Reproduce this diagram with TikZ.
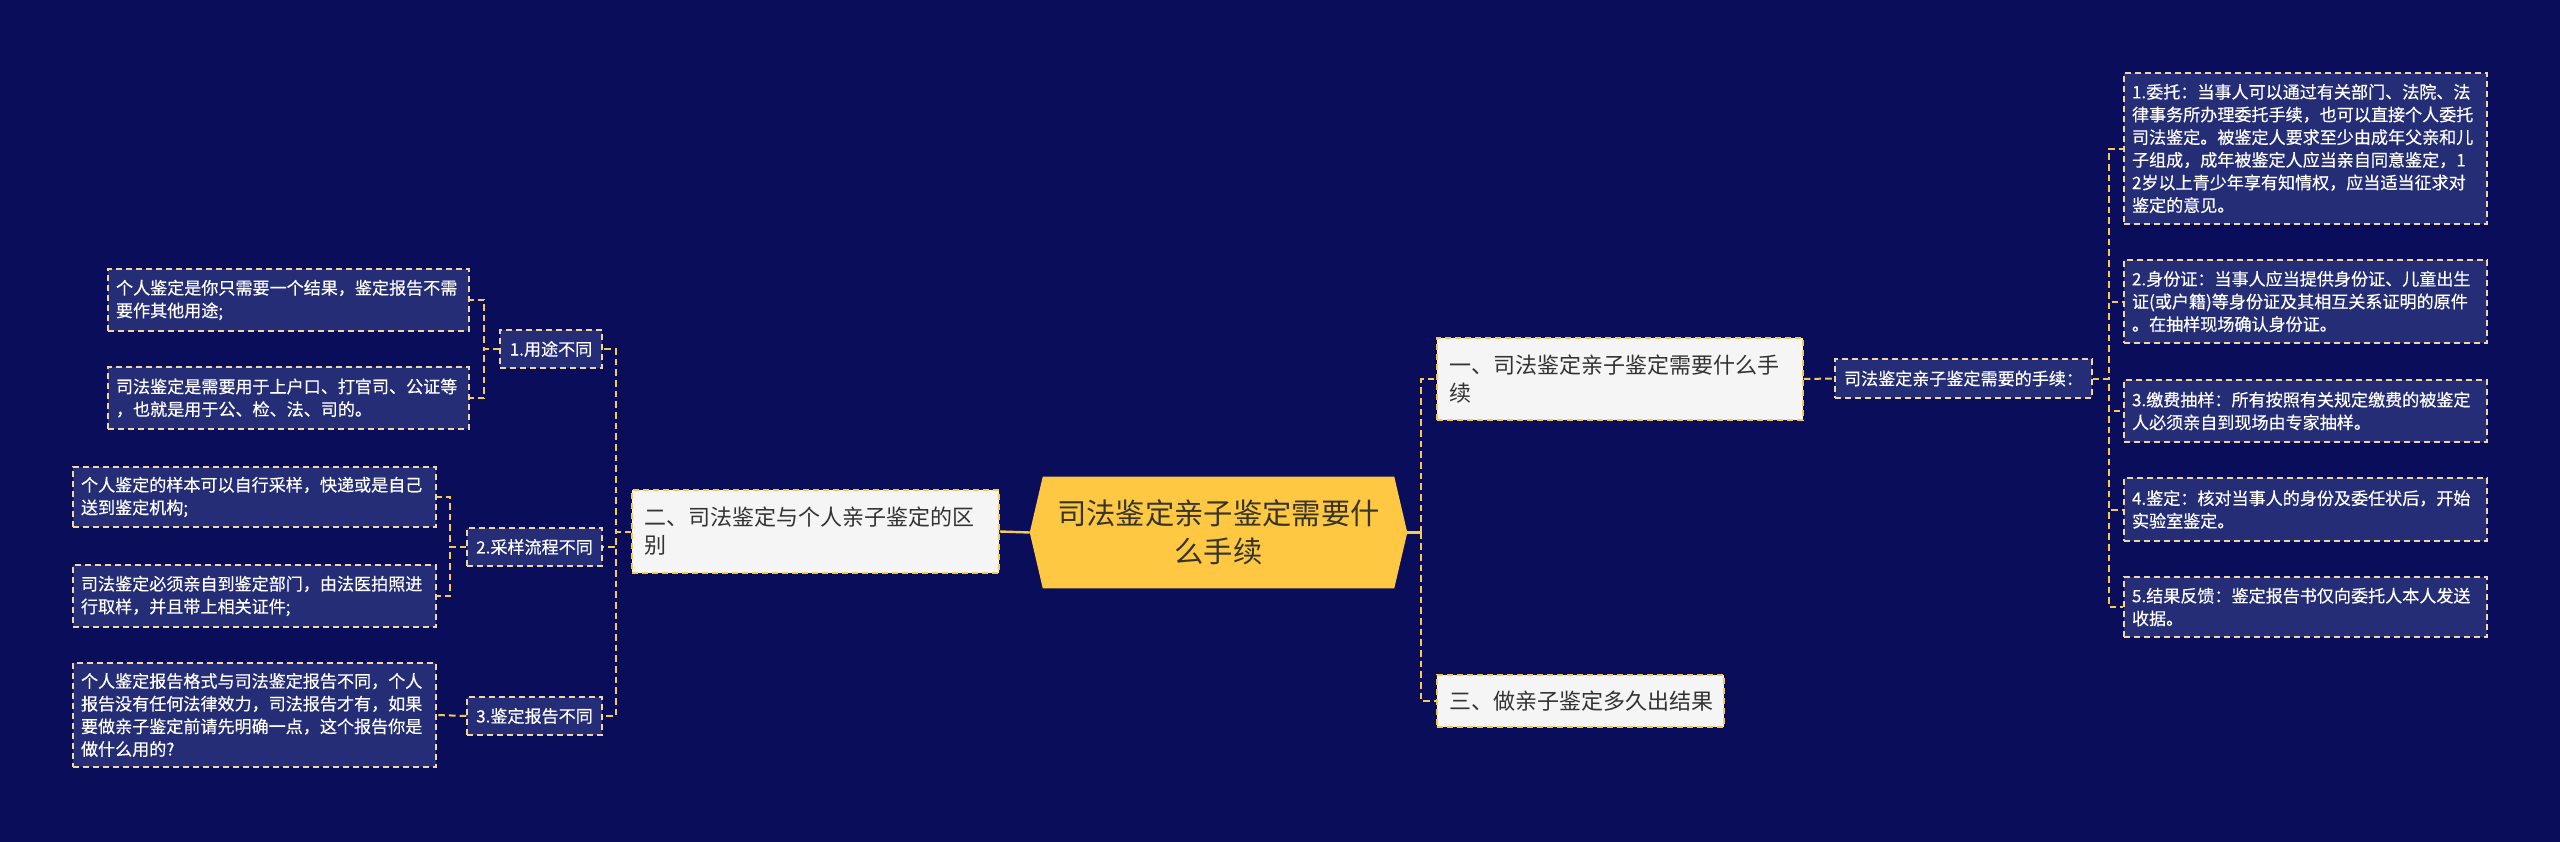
\documentclass[tikz,border=0pt]{standalone}
\usepackage{fontspec}
\newfontfamily\cjk{Noto Sans CJK SC}
\newfontfamily\cjkl[FakeBold=0.4]{Noto Sans CJK SC}
\usetikzlibrary{calc}
\definecolor{bgc}{RGB}{10,14,90}
\definecolor{leaffill}{RGB}{37,45,118}
\definecolor{leafborder}{RGB}{240,214,160}
\definecolor{lvfill}{RGB}{245,245,245}
\definecolor{lvborder}{RGB}{247,201,74}
\definecolor{cfill}{RGB}{255,200,67}
\definecolor{ctext}{RGB}{55,52,40}
\definecolor{conncol}{RGB}{245,203,79}
\definecolor{dtext}{RGB}{51,51,51}
\newcommand\mkbox[8]{%
  \pgfmathsetmacro\bw{#4*0.75}\pgfmathsetmacro\bh{#5*0.75}\pgfmathsetmacro\tw{(#4-2*#7)*0.75}%
  \node[#6, minimum width=\bw pt, minimum height=\bh pt, text width=\tw pt, inner xsep=#7*0.75pt] (#1) at (#2,#3) {#8};}
\tikzset{
  leafbox/.style={rectangle, fill=leaffill, draw=leafborder, line width=1.1pt, dash pattern=on 4.5pt off 3pt, text=white, align=left, inner ysep=0pt, font=\cjkl\fontsize{12.8pt}{17pt}\selectfont},
  midbox/.style={leafbox, align=center},
  lvbox/.style={rectangle, fill=lvfill, draw=lvborder, line width=1.1pt, dash pattern=on 4.5pt off 3pt, text=dtext, align=left, inner ysep=0pt, font=\cjk\fontsize{16.5pt}{21pt}\selectfont},
  conn/.style={draw=conncol, line width=1.5pt, dash pattern=on 5pt off 3pt},
  solidconn/.style={draw=conncol, line width=1.8pt},
}
\begin{document}
\begin{tikzpicture}[x=0.75pt, y=-0.75pt]
\fill[bgc] (0,0) rectangle (2560,842);
\useasboundingbox (0,0) rectangle (2560,842);
% central
\node[rectangle, minimum width=377*0.75pt, minimum height=111*0.75pt, inner sep=0pt] (c) at (1218.5,532.5) {};
\fill[cfill] (c.west) -- ($(c.north west)+(13,0)$) -- ($(c.north east)+(-13,0)$) -- (c.east) -- ($(c.south east)+(-13,0)$) -- ($(c.south west)+(13,0)$) -- cycle;
\node[text=ctext, align=center, font=\cjk\fontsize{22pt}{28.5pt}\selectfont] (ct) at (c.center) {司法鉴定亲子鉴定需要什\\么手续};
% level 1
\mkbox{er}{815.5}{531.5}{367}{83}{lvbox}{12}{二、司法鉴定与个人亲子鉴定的区\\别}
\mkbox{one}{1620}{379}{366}{82}{lvbox}{12}{一、司法鉴定亲子鉴定需要什么手\\续}
\mkbox{three}{1580.5}{701}{287}{52}{lvbox}{12}{三、做亲子鉴定多久出结果}
% right
\mkbox{sx}{1963.5}{378.5}{257}{39}{midbox}{6}{司法鉴定亲子鉴定需要的手续：}
\mkbox{r1}{2305.5}{148.5}{363}{151}{leafbox}{8}{1.委托：当事人可以通过有关部门、法院、法\\律事务所办理委托手续，也可以直接个人委托\\司法鉴定。被鉴定人要求至少由成年父亲和儿\\子组成，成年被鉴定人应当亲自同意鉴定，1\\2岁以上青少年享有知情权，应当适当征求对\\鉴定的意见。}
\mkbox{r2}{2305.5}{301.5}{363}{83}{leafbox}{8}{2.身份证：当事人应当提供身份证、儿童出生\\证(或户籍)等身份证及其相互关系证明的原件\\。在抽样现场确认身份证。}
\mkbox{r3}{2305.5}{411}{363}{62}{leafbox}{8}{3.缴费抽样：所有按照有关规定缴费的被鉴定\\人必须亲自到现场由专家抽样。}
\mkbox{r4}{2305.5}{509.5}{363}{63}{leafbox}{8}{4.鉴定：核对当事人的身份及委任状后，开始\\实验室鉴定。}
\mkbox{r5}{2305.5}{607}{363}{60}{leafbox}{8}{5.结果反馈：鉴定报告书仅向委托人本人发送\\收据。}
% left mids
\mkbox{m1}{551}{349}{102}{38}{midbox}{4}{1.用途不同}
\mkbox{m2}{534.5}{547}{135}{38}{midbox}{4}{2.采样流程不同}
\mkbox{m3}{534.5}{716}{135}{38}{midbox}{4}{3.鉴定报告不同}
% left leaves
\mkbox{a1}{288.5}{300}{361}{62}{leafbox}{8}{个人鉴定是你只需要一个结果，鉴定报告不需\\要作其他用途;}
\mkbox{a2}{288.5}{398}{361}{62}{leafbox}{8}{司法鉴定是需要用于上户口、打官司、公证等\\，也就是用于公、检、法、司的。}
\mkbox{b1}{254.5}{497}{363}{60}{leafbox}{8}{个人鉴定的样本可以自行采样，快递或是自己\\送到鉴定机构;}
\mkbox{b2}{254.5}{596}{363}{62}{leafbox}{8}{司法鉴定必须亲自到鉴定部门，由法医拍照进\\行取样，并且带上相关证件;}
\mkbox{c1}{254.5}{715}{363}{104}{leafbox}{8}{个人鉴定报告格式与司法鉴定报告不同，个人\\报告没有任何法律效力，司法报告才有，如果\\要做亲子鉴定前请先明确一点，这个报告你是\\做什么用的?}
% connectors left
\draw[solidconn] (c.west) -- (er.east);
\draw[conn] (er.west) -- ++(-15,0) |- (m1.east);
\draw[conn] (er.west) -- ++(-15,0) |- (m2.east);
\draw[conn] (er.west) -- ++(-15,0) |- (m3.east);
\draw[conn] (m1.west) -- ++(-15,0) |- (a1.east);
\draw[conn] (m1.west) -- ++(-15,0) |- (a2.east);
\draw[conn] (m2.west) -- ++(-16,0) |- (b1.east);
\draw[conn] (m2.west) -- ++(-16,0) |- (b2.east);
\draw[conn] (m3.west) -- (c1.east);
% connectors right
\draw[solidconn] (c.east) -- ++(14,0) coordinate (rs);
\draw[conn] (rs) |- (one.west);
\draw[conn] (rs) |- (three.west);
\draw[conn] (one.east) -- (sx.west);
\foreach \r in {r1,r2,r3,r4,r5}{
  \draw[conn] (sx.east) -- ++(16,0) |- (\r.west);
}
\end{tikzpicture}
\end{document}
